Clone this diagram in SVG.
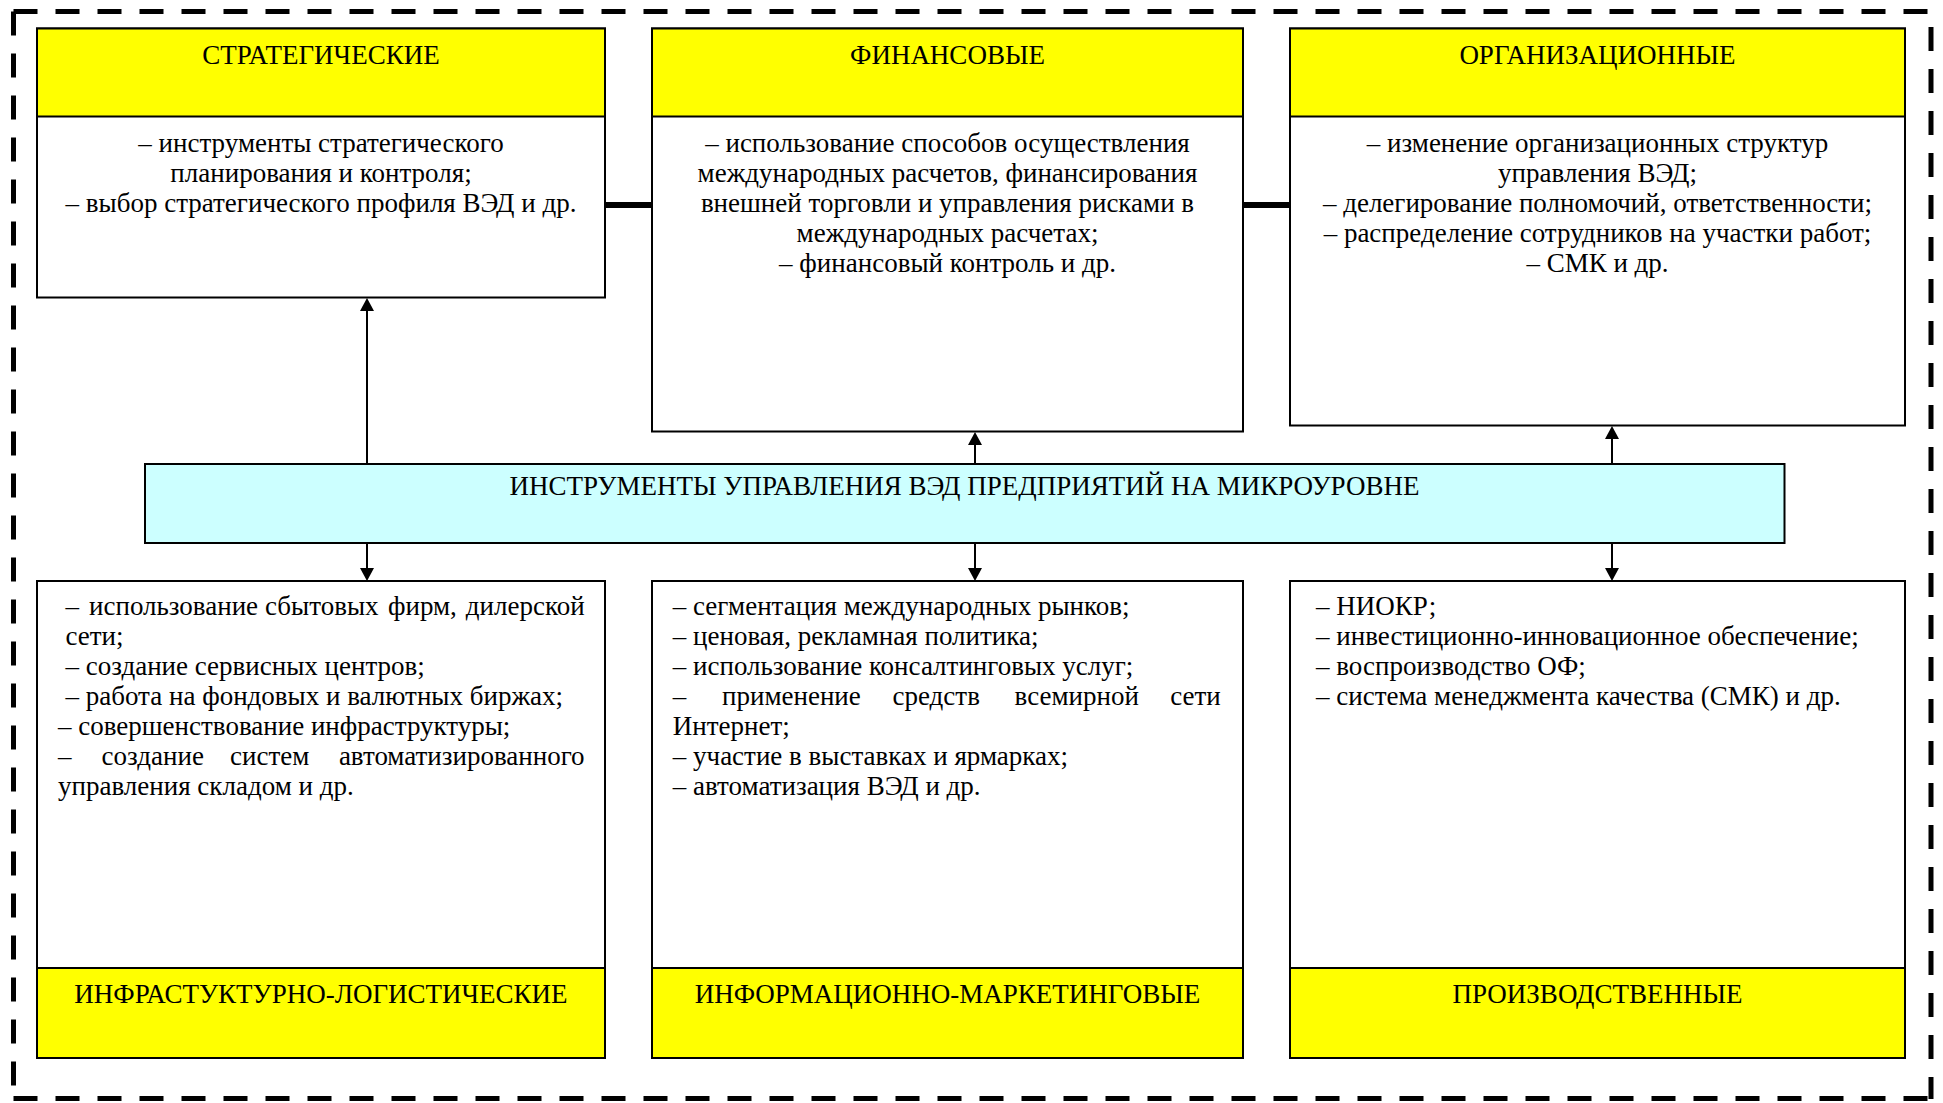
<svg xmlns="http://www.w3.org/2000/svg" width="1943" height="1103" viewBox="0 0 1943 1103">
<style>
.box{fill:#fff;stroke:#000;stroke-width:2}
.hdr{fill:#ffff00;stroke:#000;stroke-width:2}
.main{fill:#ccffff;stroke:#000;stroke-width:2}
text{font-family:"Liberation Serif","Times New Roman",serif;font-size:27px;fill:#000}
.c{text-anchor:middle}
.frame{stroke:#000;stroke-width:5;stroke-dasharray:24 18;fill:none}
.arr{stroke:#000;stroke-width:2;fill:none;marker-end:url(#ah)}
.thick{stroke:#000;stroke-width:6}
</style>
<defs>
<marker id="ah" viewBox="0 0 13 14" refX="9" refY="7" markerWidth="13" markerHeight="14" markerUnits="userSpaceOnUse" orient="auto">
<path d="M0,0 L13,7 L0,14 z" fill="#000"/>
</marker>
</defs>
<g id="frame">
<line class="frame" x1="13.5" y1="11.5" x2="1931" y2="11.5"/>
<line class="frame" x1="13.5" y1="11.5" x2="13.5" y2="1099"/>
<line class="frame" x1="1931" y1="27" x2="1931" y2="1099"/>
<line class="frame" x1="13.5" y1="1098.5" x2="1931" y2="1098.5"/>
</g>
<g id="connectors">
<line class="thick" x1="605" y1="205" x2="652" y2="205"/>
<line class="thick" x1="1243" y1="205" x2="1290" y2="205"/>
<line class="arr" x1="367" y1="464" x2="367" y2="302"/>
<line class="arr" x1="975" y1="464" x2="975" y2="436"/>
<line class="arr" x1="1612" y1="464" x2="1612" y2="430"/>
<line class="arr" x1="367" y1="543" x2="367" y2="577"/>
<line class="arr" x1="975" y1="543" x2="975" y2="577"/>
<line class="arr" x1="1612" y1="543" x2="1612" y2="577"/>
</g>
<g id="strategic">
<rect class="box" x="37" y="28.5" width="568" height="269"/>
<rect class="hdr" x="37" y="28.5" width="568" height="88"/>
<text class="c" x="321" y="63.5">СТРАТЕГИЧЕСКИЕ</text>
<text class="c" x="321" y="152">– инструменты стратегического</text>
<text class="c" x="321" y="182">планирования и контроля;</text>
<text class="c" x="321" y="212">– выбор стратегического профиля ВЭД и др.</text>
</g>
<g id="financial">
<rect class="box" x="652" y="28.5" width="591" height="403"/>
<rect class="hdr" x="652" y="28.5" width="591" height="88"/>
<text class="c" x="947.5" y="63.5">ФИНАНСОВЫЕ</text>
<text class="c" x="947.5" y="152">– использование способов осуществления</text>
<text class="c" x="947.5" y="182">международных расчетов, финансирования</text>
<text class="c" x="947.5" y="212">внешней торговли и управления рисками в</text>
<text class="c" x="947.5" y="242">международных расчетах;</text>
<text class="c" x="947.5" y="272">– финансовый контроль и др.</text>
</g>
<g id="organizational">
<rect class="box" x="1290" y="28.5" width="615" height="397"/>
<rect class="hdr" x="1290" y="28.5" width="615" height="88"/>
<text class="c" x="1597.5" y="63.5">ОРГАНИЗАЦИОННЫЕ</text>
<text class="c" x="1597.5" y="152">– изменение организационных структур</text>
<text class="c" x="1597.5" y="182">управления ВЭД;</text>
<text class="c" x="1597.5" y="212">– делегирование полномочий, ответственности;</text>
<text class="c" x="1597.5" y="242">– распределение сотрудников на участки работ;</text>
<text class="c" x="1597.5" y="272">– СМК и др.</text>
</g>
<g id="center">
<rect class="main" x="145" y="464" width="1639.5" height="79"/>
<text class="c" x="964.5" y="495">ИНСТРУМЕНТЫ УПРАВЛЕНИЯ ВЭД ПРЕДПРИЯТИЙ НА МИКРОУРОВНЕ</text>
</g>
<g id="infrastructure">
<rect class="box" x="37" y="581" width="568" height="477"/>
<rect class="hdr" x="37" y="968" width="568" height="90"/>
<text class="c" x="321" y="1003">ИНФРАСТУКТУРНО-ЛОГИСТИЧЕСКИЕ</text>
<text y="615"><tspan x="65.5">–</tspan><tspan x="89">использование</tspan><tspan x="265">сбытовых</tspan><tspan x="388">фирм,</tspan><tspan x="584.6" text-anchor="end">дилерской</tspan></text>
<text x="65.5" y="645">сети;</text>
<text x="65.5" y="675">– создание сервисных центров;</text>
<text x="65.5" y="705">– работа на фондовых и валютных биржах;</text>
<text x="58" y="735">– совершенствование инфраструктуры;</text>
<text y="765"><tspan x="58">–</tspan><tspan x="101.6">создание</tspan><tspan x="230">систем</tspan><tspan x="584.6" text-anchor="end">автоматизированного</tspan></text>
<text x="58" y="795">управления складом и др.</text>
</g>
<g id="marketing">
<rect class="box" x="652" y="581" width="591" height="477"/>
<rect class="hdr" x="652" y="968" width="591" height="90"/>
<text class="c" x="947.5" y="1003">ИНФОРМАЦИОННО-МАРКЕТИНГОВЫЕ</text>
<text x="672.8" y="615">– сегментация международных рынков;</text>
<text x="672.8" y="645">– ценовая, рекламная политика;</text>
<text x="672.8" y="675">– использование консалтинговых услуг;</text>
<text y="705"><tspan x="672.8">–</tspan><tspan x="722">применение</tspan><tspan x="892.5">средств</tspan><tspan x="1014.6">всемирной</tspan><tspan x="1220.8" text-anchor="end">сети</tspan></text>
<text x="672.8" y="735">Интернет;</text>
<text x="672.8" y="765">– участие в выставках и ярмарках;</text>
<text x="672.8" y="795">– автоматизация ВЭД и др.</text>
</g>
<g id="production">
<rect class="box" x="1290" y="581" width="615" height="477"/>
<rect class="hdr" x="1290" y="968" width="615" height="90"/>
<text class="c" x="1597.5" y="1003">ПРОИЗВОДСТВЕННЫЕ</text>
<text x="1316" y="615">– НИОКР;</text>
<text x="1316" y="645">– инвестиционно-инновационное обеспечение;</text>
<text x="1316" y="675">– воспроизводство ОФ;</text>
<text x="1316" y="705">– система менеджмента качества (СМК) и др.</text>
</g>
</svg>
